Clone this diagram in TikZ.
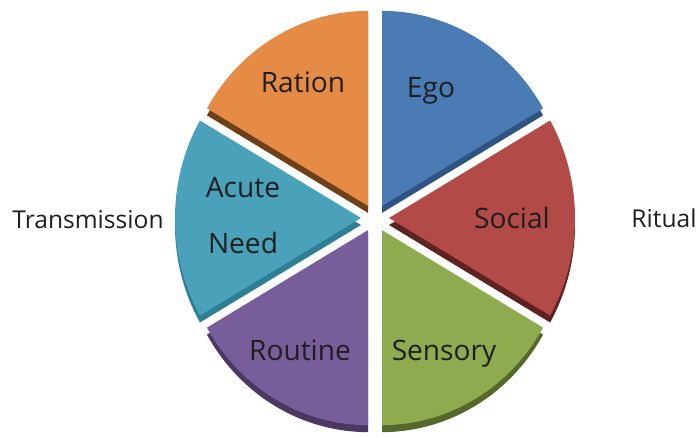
\documentclass[tikz,border=0pt]{standalone}
\usepackage{fontspec}
\setmainfont{Open Sans}
\usepackage{xcolor}
\usepackage{tikz}
\usetikzlibrary{positioning,calc}

\definecolor{egoface}{HTML}{4B7BB5}
\definecolor{egoside}{HTML}{2F5482}
\definecolor{socialface}{HTML}{B24A47}
\definecolor{socialside}{HTML}{5E2221}
\definecolor{sensoryface}{HTML}{8EAB4F}
\definecolor{sensoryside}{HTML}{56682C}
\definecolor{routineface}{HTML}{785D9B}
\definecolor{routineside}{HTML}{4A3862}
\definecolor{acuteface}{HTML}{49A2BA}
\definecolor{acuteside}{HTML}{2E7E94}
\definecolor{rationface}{HTML}{E68B45}
\definecolor{rationside}{HTML}{6E4017}

\begin{document}
\begin{tikzpicture}[x=0.03cm,y=0.03cm,
    slicelabel/.style={font=\fontsize{24}{24}\selectfont, text=black!88, anchor=base, inner sep=0pt},
    sidelabel/.style={font=\fontsize{21}{21}\selectfont, text=black!88, anchor=base, inner sep=0pt}]
    \useasboundingbox (0,0) rectangle (699,437);

    % Pie centre
    \coordinate (pie) at (375,219);

    % Slices (top ones first, so the lower faces lie over the side bands)
    \foreach \a/\b/\fc/\sc in {90/150/rationface/rationside, 30/90/egoface/egoside,
        150/210/acuteface/acuteside, -30/30/socialface/socialside,
        210/270/routineface/routineside, -90/-30/sensoryface/sensoryside}{
        \pgfmathsetmacro\m{(\a+\b)/2}
        \coordinate (tip) at ($(pie)+(\m:14)$);
        % side band
        \fill[\sc] ($(tip)+(0,-7)$) -- ++(\a:186 and 195)
            arc[start angle=\a, end angle=\b, x radius=186, y radius=195] -- cycle;
        % face
        \fill[\fc] (tip) -- ++(\a:186 and 195)
            arc[start angle=\a, end angle=\b, x radius=186, y radius=195] -- cycle;
    }

    % Labels
    \node[slicelabel] (ration) at (303,344) {Ration};
    \node[slicelabel] (ego) at (431,339) {Ego};
    \node[slicelabel] (acute) at (243,240) {Acute};
    \node[slicelabel] (need) at (243,184) {Need};
    \node[slicelabel] (social) at (512,209) {Social};
    \node[slicelabel] (routine) at (300,77) {Routine};
    \node[slicelabel] (sensory) at (444,77) {Sensory};

    \node[sidelabel] (transmission) at (88,209) {Transmission};
    \node[sidelabel] (ritual) at (664,210) {Ritual};

\end{tikzpicture}
\end{document}
